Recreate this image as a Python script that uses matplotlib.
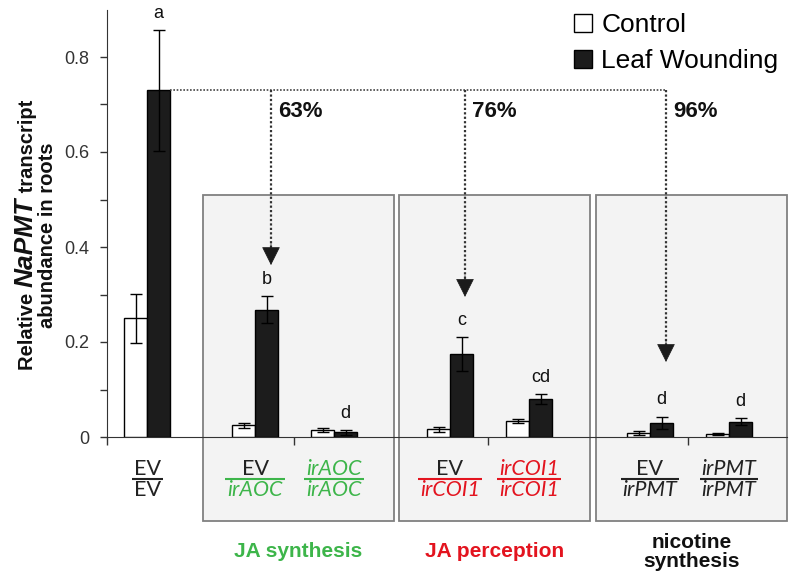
import matplotlib
matplotlib.use('Agg')
import matplotlib.pyplot as plt
from matplotlib.patches import Rectangle
import numpy as np

plt.rcParams['font.family'] = ['Liberation Sans', 'DejaVu Sans']

# DATA
pos = [40, 148, 227, 343, 422, 543, 622]          # pair centres on the x scale
ctrl = [0.25, 0.025, 0.015, 0.016, 0.034, 0.008, 0.007]
ctrl_err = [0.052, 0.005, 0.005, 0.005, 0.004, 0.004, 0.002]
wound = [0.73, 0.268, 0.010, 0.175, 0.080, 0.030, 0.032]
wound_err = [0.127, 0.028, 0.005, 0.036, 0.011, 0.013, 0.007]
letters = ['a', 'b', 'd', 'c', 'cd', 'd', 'd']
numer = ['EV', 'EV', 'irAOC', 'EV', 'irCOI1', 'EV', 'irPMT']
denom = ['EV', 'irAOC', 'irAOC', 'irCOI1', 'irCOI1', 'irPMT', 'irPMT']

GREEN = '#3db54a'
RED = '#e3141f'
num_col = ['#222222', '#222222', GREEN, '#222222', RED, '#222222', '#222222']
den_col = ['#222222', GREEN, GREEN, RED, RED, '#222222', '#222222']

boxes = [(96, 287), (292, 483), (489, 680)]
box_lo, box_hi = -0.177, 0.509
group_names = ['JA synthesis', 'JA perception', 'nicotine\nsynthesis']
group_cols = [GREEN, RED, '#111111']

ref_level = wound[0]
arrow_x = [164, 358, 559]
arrow_to = [0.362, 0.295, 0.158]
pct = ['63%', '76%', '96%']

W = 23

fig = plt.figure(figsize=(8, 5.81), dpi=100)
ax = fig.add_axes([107/800, 1-437/581, 680/800, (437-9.5)/581])
ax.set_xlim(0, 680)
ax.set_ylim(0, 0.9)

# grey panels
for (x0, x1) in boxes:
    ax.add_patch(Rectangle((x0, box_lo), x1-x0, box_hi-box_lo, facecolor='#f3f3f3',
                           edgecolor='#808080', lw=1.3, clip_on=False, zorder=0.5))

x = np.array(pos)
b1 = ax.bar(x - W/2, ctrl, W, yerr=ctrl_err, color='white', edgecolor='black', lw=1,
            error_kw=dict(ecolor='black', elinewidth=1, capsize=4.5, capthick=1), zorder=3,
            label='Control')
b2 = ax.bar(x + W/2, wound, W, yerr=wound_err, color='#1c1c1c', edgecolor='black', lw=1,
            error_kw=dict(ecolor='black', elinewidth=1, capsize=4.5, capthick=1), zorder=3,
            label='Leaf Wounding')

for xi, v, e, t in zip(x, wound, wound_err, letters):
    ax.text(xi + W/2, v + e + 0.035, t, ha='center', va='center', fontsize=13, color='#111111')

# dotted reference line and arrows
ax.plot([pos[0] + W, arrow_x[-1]], [ref_level, ref_level], ls=(0, (1, 1)), color='#444444',
        lw=1.2, zorder=4)
for ax_x, tgt, p in zip(arrow_x, arrow_to, pct):
    ax.plot([ax_x, ax_x], [ref_level, tgt + 0.025], ls=(0, (1, 1)), color='#333333', lw=1.6, zorder=4)
    ax.annotate('', xy=(ax_x, tgt), xytext=(ax_x, tgt + 0.045),
                arrowprops=dict(arrowstyle='-|>,head_width=0.3,head_length=0.6',
                                mutation_scale=20, color='#1a1a1a', lw=0.5,
                                shrinkA=0, shrinkB=0), zorder=5)
    ax.text(ax_x + 7, 0.686, p, ha='left', va='center', fontsize=16, fontweight='bold',
            color='#111111')

# axes styling
ax.spines['top'].set_visible(False)
ax.spines['right'].set_visible(False)
ax.spines['left'].set_color('#333333')
ax.spines['bottom'].set_color('#333333')
ax.set_yticks(np.arange(0, 0.85, 0.1))
ax.set_yticklabels(['0', '', '0.2', '', '0.4', '', '0.6', '', '0.8'])
ax.tick_params(axis='y', direction='out', length=5, width=1, pad=8, labelsize=13,
               labelcolor='#333333', color='#333333')
ax.set_xticks([0, 187, 381, 581])
ax.set_xticklabels([])
ax.tick_params(axis='x', direction='out', length=6, width=1, color='#333333')

# fraction labels
fig.canvas.draw()
rend = fig.canvas.get_renderer()
for xi, n, d, nc, dc in zip(x, numer, denom, num_col, den_col):
    tn = ax.text(xi, -0.067, n, ha='center', va='center', fontsize=15.5, color=nc,
                 family='Lato', style='normal' if n == 'EV' else 'italic', clip_on=False)
    td = ax.text(xi, -0.112, d, ha='center', va='center', fontsize=15.5, color=dc,
                 family='Lato', style='normal' if d == 'EV' else 'italic', clip_on=False)
    half = max(tn.get_window_extent(rend).width, td.get_window_extent(rend).width) / 2 + 2
    ax.plot([xi - half, xi + half], [-0.089, -0.089], color=dc, lw=1.5, clip_on=False,
            solid_capstyle='butt')

for (x0, x1), g, c in zip(boxes, group_names, group_cols):
    ax.text((x0 + x1) / 2, -0.242, g, ha='center', va='center', fontsize=15, fontweight='bold',
            color=c, linespacing=0.95, clip_on=False)

# y label: two lines, the gene name larger and italic, sharing one baseline
parts = [('Relative ', 14.5, 'normal'), ('NaPMT', 19, 'italic'), (' transcript', 14.5, 'normal')]
lens = []
for s, fs, st in parts:
    t = fig.text(0, 0, s, rotation=90, fontsize=fs, fontweight='bold', style=st)
    lens.append(t.get_window_extent(rend).height)
    t.remove()
yy = 581 - (235 + sum(lens) / 2)
for (s, fs, st), L in zip(parts, lens):
    fig.text(33/800, yy/581, s, rotation=90, rotation_mode='anchor', ha='left',
             va='baseline', fontsize=fs, fontweight='bold', style=st, color='#111111')
    yy += L
fig.text(53/800, 1-235/581, 'abundance in roots', rotation=90, rotation_mode='anchor',
         ha='center', va='baseline', fontsize=14.5, fontweight='bold', color='#111111')

ax.legend(handles=[b1, b2], loc='upper left', bbox_to_anchor=(574/800, 1-13/581),
          bbox_transform=fig.transFigure, frameon=False, fontsize=19, borderpad=0,
          borderaxespad=0, handlelength=0.68, handleheight=0.68, handletextpad=0.35,
          labelspacing=0.45)

fig.savefig('out.png', dpi=100)
